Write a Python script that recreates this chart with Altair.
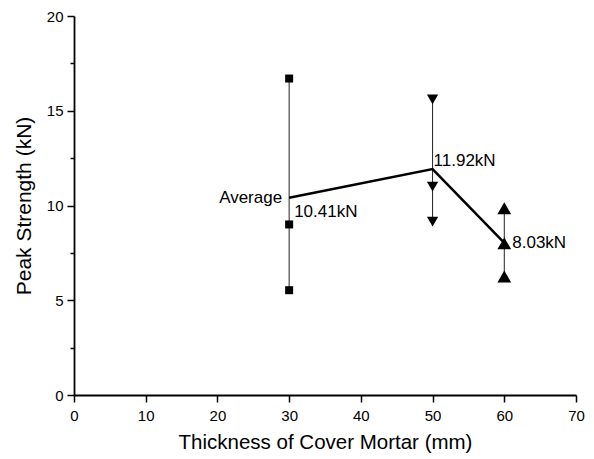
import altair as alt
import pandas as pd

# Individual specimen results
thickness = [30, 30, 30, 50, 50, 50, 60, 60, 60]
strength = [16.7, 9.0, 5.53, 15.6, 11.0, 9.15, 9.85, 8.0, 6.25]
marker = ["square", "square", "square", "down", "down", "down", "up", "up", "up"]

# Averages per thickness
group_t = [30, 50, 60]
avg = [10.41, 11.92, 8.03]
avg_text = ["10.41kN", "11.92kN", "8.03kN"]

x_ticks = [0, 5, 10, 15, 20, 25, 30, 35, 40, 45, 50, 55, 60, 65, 70]
y_ticks = [0, 2.5, 5, 7.5, 10, 12.5, 15, 17.5, 20]

pts = pd.DataFrame({"t": thickness, "s": strength, "m": marker})
avg_df = pd.DataFrame({"t": group_t, "s": avg, "lab": avg_text})

FONT = "Liberation Sans"

xscale = alt.Scale(domain=[0, 70], nice=False, zero=False)
yscale = alt.Scale(domain=[0, 20], nice=False)

x_axis = alt.Axis(
    values=x_ticks,
    labelExpr="datum.value % 10 === 0 ? datum.label : ''",
    tickSize={"condition": {"test": "datum.value % 10 === 0", "value": 7}, "value": 4},
    tickColor="black", tickWidth=1.5, domainColor="black", domainWidth=1.8,
    labelFont=FONT, labelFontSize=15, labelColor="black", labelPadding=6,
    labelOverlap=False, labelFlush=False,
    grid=False, title="Thickness of Cover Mortar (mm)",
    titleFont=FONT, titleFontSize=20.5, titleFontWeight="normal", titleColor="black",
    titleY=53, titleBaseline="alphabetic",
)
y_axis = alt.Axis(
    values=y_ticks,
    labelExpr="datum.value % 5 === 0 ? datum.label : ''",
    tickSize={"condition": {"test": "datum.value % 5 === 0", "value": 7}, "value": 4},
    tickColor="black", tickWidth=1.5, domainColor="black", domainWidth=1.8,
    labelFont=FONT, labelFontSize=15, labelColor="black", labelPadding=4,
    labelOverlap=False, labelFlush=False,
    grid=False, title="Peak Strength (kN)",
    titleFont=FONT, titleFontSize=21, titleFontWeight="normal", titleColor="black",
    titleX=-44, titleY=189.5, titleAngle=270, titleAlign="center", titleBaseline="alphabetic",
)

base = alt.Chart(pts)

rules = base.mark_rule(color="#222", strokeWidth=1).encode(
    x=alt.X("t:Q", scale=xscale, axis=x_axis),
    y=alt.Y("min(s):Q", scale=yscale, axis=y_axis),
    y2="max(s):Q",
)

points = base.mark_point(filled=True, opacity=1, color="black").encode(
    x=alt.X("t:Q", scale=xscale),
    y=alt.Y("s:Q", scale=yscale),
    shape=alt.Shape("m:N", scale=alt.Scale(domain=["square", "down", "up"],
                                            range=["square", "triangle-down", "triangle-up"]),
                    legend=None),
    size=alt.Size("m:N", scale=alt.Scale(domain=["square", "down", "up"], range=[64, 190, 190]),
                  legend=None),
)

abase = alt.Chart(avg_df)
line = abase.mark_line(color="black", strokeWidth=2.5).encode(
    x=alt.X("t:Q", scale=xscale),
    y=alt.Y("s:Q", scale=yscale),
)

def lab(tval, dx, dy, align="left", text=None):
    enc = dict(x=alt.X("t:Q", scale=xscale), y=alt.Y("s:Q", scale=yscale))
    if text is None:
        enc["text"] = alt.Text("lab:N")
        mk = abase.mark_text(font=FONT, fontSize=17, color="black", align=align,
                             baseline="middle", dx=dx, dy=dy)
    else:
        mk = abase.mark_text(font=FONT, fontSize=17, color="black", align=align,
                             baseline="middle", dx=dx, dy=dy, text=text)
    return mk.encode(**enc).transform_filter(alt.datum.t == tval)

t1 = lab(30, 5, 14)
t2 = lab(50, 1, -8)
t3 = lab(60, 8, 0)
t_avg = lab(30, -7, 0, align="right", text="Average")

chart = alt.layer(rules, line, points, t1, t2, t3, t_avg).properties(
    width=502, height=379,
    autosize=alt.AutoSizeParams(type="none"),
    padding={"left": 74, "top": 16, "right": 18, "bottom": 64},
    background="white",
).configure_view(stroke=None)

chart.save("out.html", embed_options={"renderer": "svg", "actions": False})
